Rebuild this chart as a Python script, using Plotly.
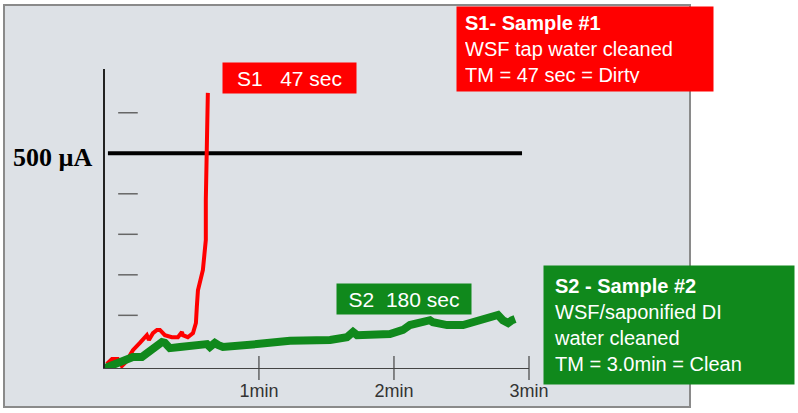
import plotly.graph_objects as go

# time in seconds (x) and sensor current in microamps (y)
s1_time = [-7.6, -5.3, -2.7, -0.9, 0.9, 4.0, 7.1, 9.3, 10.2, 11.1, 12.9, 14.7, 16.0,
           18.2, 21.3, 24.0, 25.8, 26.2, 28.4, 30.7, 32.0, 32.4, 32.9, 35.1, 36.0,
           36.4, 36.4, 36.9, 37.3]
s1_current = [-20, -8, -8, -25, -15, 14, 32, 44, 51, 39, 56, 64, 64,
              51, 46, 46, 59, 51, 46, 56, 81, 120, 162, 212, 254,
              286, 385, 491, 649]

s2_time = [-8.4, -4.9, -0.4, 4.0, 8.0, 9.3, 11.6, 14.7, 16.9, 18.2, 20.4, 24.9, 29.3,
           36.9, 38.2, 40.4, 41.8, 44.0, 59.1, 73.8, 91.6, 99.1, 101.8, 103.6, 118.2,
           124.0, 127.1, 134.7, 136.0, 137.3, 143.6, 150.7, 156.9, 164.0, 166.2, 168.4,
           170.7, 172.4, 173.8]
s2_current = [-30, -23, -10, -3, -3, 2, 9, 24, 34, 32, 19, 22, 24,
              29, 22, 32, 27, 22, 29, 37, 39, 46, 59, 51, 54,
              64, 76, 83, 88, 83, 76, 76, 86, 96, 101, 88,
              81, 88, 91]

threshold_time = [-7.1, 176.9]
threshold_current = [500, 500]

y_dash_values = [100, 200, 300, 400, 600]
x_tick_values = [60, 120, 180]
x_tick_labels = ["1min", "2min", "3min"]

SANS = "Liberation Sans, Arial, sans-serif"
RED = "#ff0000"
GREEN = "#10891c"
X_RANGE = [-8.4, 180]
Y_RANGE = [-30, 708]

fig = go.Figure()

# short gray dashes standing in for the y ticks
fig.add_trace(go.Scatter(x=[1.8] * len(y_dash_values), y=y_dash_values, mode="markers",
                         marker=dict(symbol="line-ew", size=14,
                                     line=dict(width=1.5, color="#666666")),
                         hoverinfo="skip"))

# tick marks crossing the x axis
fig.add_trace(go.Scatter(x=x_tick_values, y=[Y_RANGE[0]] * len(x_tick_values), mode="markers",
                         marker=dict(symbol="line-ns", size=17,
                                     line=dict(width=1.2, color="#444444")),
                         cliponaxis=False, hoverinfo="skip"))

# 500 uA threshold
fig.add_trace(go.Scatter(x=threshold_time, y=threshold_current, mode="lines",
                         line=dict(color="black", width=4)))

fig.add_trace(go.Scatter(x=s1_time, y=s1_current, mode="lines", name="S1",
                         line=dict(color=RED, width=4)))
fig.add_trace(go.Scatter(x=s2_time, y=s2_current, mode="lines", name="S2",
                         line=dict(color=GREEN, width=8)))

W, H = 798, 413


def px(x):
    return x / W


def py(y):
    return 1 - y / H


# gray panel behind the chart
fig.add_shape(type="rect", xref="paper", yref="paper", layer="below",
              x0=px(4), x1=px(690), y0=py(407), y1=py(5),
              fillcolor="#dde1e6", line=dict(color="#8a8a8a", width=2))

annotations = [
    # y axis label for the threshold
    dict(x=px(94), y=py(157), xanchor="right", yanchor="middle",
         text="<b>500 µA</b>",
         font=dict(family="Liberation Serif, Times New Roman, serif", size=26, color="black")),
    dict(x=px(222), y=py(62), xanchor="left", yanchor="top",
         text="S1   47 sec", bgcolor=RED, borderpad=2, width=129, height=26, align="center",
         font=dict(family=SANS, size=21, color="white")),
    dict(x=px(336), y=py(283), xanchor="left", yanchor="top",
         text="S2  180 sec", bgcolor=GREEN, borderpad=2, width=130, height=26, align="center",
         font=dict(family=SANS, size=21, color="white")),
    dict(x=px(456), y=py(6), xanchor="left", yanchor="top",
         text="<b>S1- Sample #1</b><br>WSF tap water cleaned<br>TM = 47 sec = Dirty",
         bgcolor=RED, borderpad=8, width=240, height=68, align="left",
         font=dict(family=SANS, size=20, color="white")),
    dict(x=px(543), y=py(265), xanchor="left", yanchor="top",
         text="<b>S2 - Sample #2</b><br>WSF/saponified DI<br>water cleaned<br>TM = 3.0min = Clean",
         bgcolor=GREEN, borderpad=10, width=230, height=98, align="left", valign="middle",
         font=dict(family=SANS, size=20, color="white")),
]
for a in annotations:
    a.update(xref="paper", yref="paper", showarrow=False)

fig.update_layout(
    width=W, height=H,
    margin=dict(l=0, r=0, t=0, b=0, autoexpand=False),
    paper_bgcolor="white",
    plot_bgcolor="rgba(0,0,0,0)",
    showlegend=False,
    annotations=annotations,
    xaxis=dict(domain=[px(105), px(529)], range=X_RANGE, showgrid=False, zeroline=False,
               showline=True, linecolor="#444444", linewidth=1.2,
               tickvals=x_tick_values, ticktext=x_tick_labels,
               ticks="outside", ticklen=6, tickcolor="rgba(0,0,0,0)",
               tickfont=dict(family=SANS, size=18, color="#333333")),
    yaxis=dict(domain=[py(368), py(69)], range=Y_RANGE, showgrid=False, zeroline=False,
               showline=True, linecolor="#222222", linewidth=1.5, showticklabels=False),
)

# the page's default body margin would push the figure 8px off the corner
fig.write_html("out.html",
               config={"displayModeBar": False, "responsive": False},
               post_script="document.body.style.margin = '0'; document.body.style.overflow = 'hidden';")
